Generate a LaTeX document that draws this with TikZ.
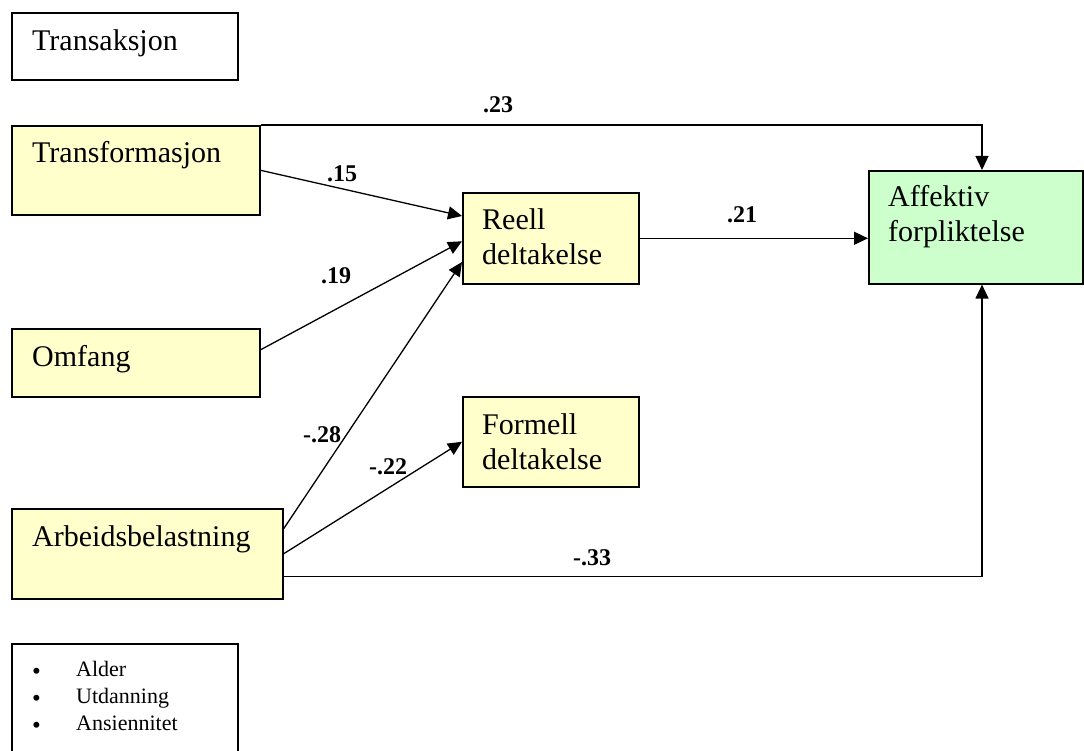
\documentclass[tikz,border=0pt]{standalone}
\usepackage{fontspec}
\setmainfont{Liberation Serif}
\usetikzlibrary{arrows.meta,calc}
\definecolor{paleyellow}{HTML}{FFFFCC}
\definecolor{palegreen}{HTML}{CCFFCC}
\newcommand{\bigbul}{\makebox[44pt][l]{\smash{\raisebox{-3pt}{\fontsize{25}{25}\selectfont\textbullet}}}}
\tikzset{
  box/.style={draw=black, line width=1.6pt, inner sep=0pt, anchor=north west},
  boxtext/.style={anchor=base west, inner sep=0pt, text width=220pt, align=left,
                  font=\fontsize{30}{35}\selectfont},
  conn/.style={line width=1.3pt, -{Triangle[length=14pt,width=13pt]}},
  coef/.style={font=\fontsize{24}{26}\selectfont\bfseries, inner sep=0pt}
}
\begin{document}
\begin{tikzpicture}[x=1pt,y=-1pt]
\useasboundingbox (0,0) rectangle (1084,751);
% boxes
\node[box, fill=white, minimum width=226pt, minimum height=67pt] (ts) at (11,12) {};
\node[box, fill=paleyellow, minimum width=248pt, minimum height=89pt] (tf) at (11,125) {};
\node[box, fill=paleyellow, minimum width=248pt, minimum height=68pt] (om) at (11,328) {};
\node[box, fill=paleyellow, minimum width=271pt, minimum height=90pt] (ab) at (11,508) {};
\node[box, fill=paleyellow, minimum width=176pt, minimum height=91pt] (rd) at (462,192) {};
\node[box, fill=paleyellow, minimum width=176pt, minimum height=90pt] (fd) at (462,396) {};
\node[box, fill=palegreen, minimum width=214pt, minimum height=113pt] (af) at (868,170) {};
\node[box, fill=white, minimum width=226pt, minimum height=130pt] (lg) at (11,643) {};
% box texts
\node[boxtext] (tstx) at ($(ts.north west)+(21,39)$) {Transaksjon};
\node[boxtext] (tftx) at ($(tf.north west)+(21,38)$) {Transformasjon};
\node[boxtext] (omtx) at ($(om.north west)+(21,38)$) {Omfang};
\node[boxtext] (abtx) at ($(ab.north west)+(21,38)$) {Arbeidsbelastning};
\node[boxtext] (rdtx) at ($(rd.north west)+(20,38)$) {Reell\\deltakelse};
\node[boxtext] (fdtx) at ($(fd.north west)+(20,38)$) {Formell\\deltakelse};
\node[boxtext] (aftx) at ($(af.north west)+(20,37)$) {Affektiv\\forpliktelse};
\node[anchor=base west, inner sep=0pt, text width=200pt, align=left,
      font=\fontsize{22}{27}\selectfont] (lgtx) at ($(lg.north west)+(21,33)$)
  {\bigbul Alder\\
   \bigbul Utdanning\\
   \bigbul Ansiennitet};
% connectors
\draw[conn] (tf.north east) -| ($(af.north west)+(114,0)$);
\draw[conn] (tf.east) -- ($(rd.north west)+(0,24)$);
\draw[conn] ($(om.east)+(0,-13)$) -- ($(rd.west)+(0,3)$);
\draw[conn] ($(ab.east)+(0,-25)$) -- ($(rd.north west)+(0,70)$);
\draw[conn] (ab.east) -- (fd.west);
\draw[conn] ($(ab.east)+(0,23)$) -| ($(af.south west)+(114,0)$);
\draw[conn] (rd.east) -- (rd.east -| af.west);
% coefficients
\node[coef] (c23) at (498,105) {.23};
\node[coef] (c15) at (342,174) {.15};
\node[coef] (c19) at (336,276) {.19};
\node[coef] (c28) at (322,435) {-.28};
\node[coef] (c22) at (388,467) {-.22};
\node[coef] (c33) at (592,558) {-.33};
\node[coef] (c21) at (742,215) {.21};
\end{tikzpicture}
\end{document}
